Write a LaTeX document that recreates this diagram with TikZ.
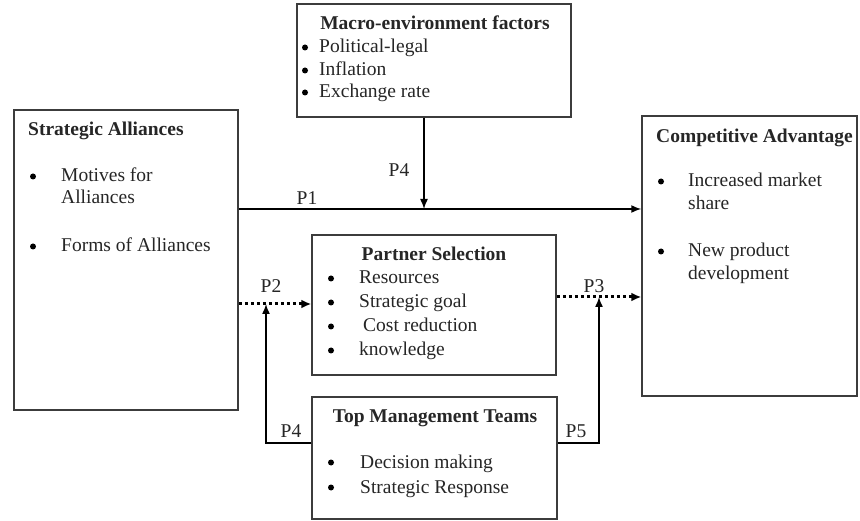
\documentclass[tikz,border=0pt]{standalone}
\usepackage{fontspec}
\setmainfont{Liberation Serif}
\usetikzlibrary{arrows.meta}
\definecolor{boxgray}{HTML}{3C3C3C}
\definecolor{textgray}{HTML}{262626}
\begin{document}
\begin{tikzpicture}[x=1pt,y=-1pt,
  box/.style={draw=boxgray, line width=1.5pt, rectangle, inner sep=0pt, fill=white},
  txt/.style={anchor=base west, inner sep=0pt, font=\fontsize{19.5}{23}\selectfont, text=textgray},
  ttl/.style={anchor=base, inner sep=0pt, font=\fontsize{19.5}{23}\selectfont\bfseries, text=textgray},
  bul/.style={circle, fill=black, inner sep=0pt, minimum size=6pt, yshift=5.5pt},
  lbl/.style={anchor=base, inner sep=0pt, font=\fontsize{19.5}{23}\selectfont, text=textgray},
  conn/.style={draw=black, line width=1.5pt},
  arr/.style={conn, -{Latex[length=10pt,width=8pt]}},
  dotarr/.style={draw=black, line width=3pt, dash pattern=on 3pt off 3pt, -{Latex[length=10pt,width=9pt]}}
]
\useasboundingbox (0,0) rectangle (860,521);
\fill[white] (0,0) rectangle (860,521);

% boxes
\node[box, minimum width=224pt, minimum height=300pt] (sa) at (126,260) {};
\node[box, minimum width=274pt, minimum height=113pt] (macro) at (434,60.5) {};
\node[box, minimum width=215pt, minimum height=280pt] (ca) at (749.5,256) {};
\node[box, minimum width=244pt, minimum height=140pt] (ps) at (434,305) {};
\node[box, minimum width=245pt, minimum height=122pt] (tmt) at (434.5,458) {};

% Strategic Alliances
\node[ttl, anchor=base west] (sat) at (28,136) {Strategic Alliances};
\node[bul] (sab1) at (33,182) {};
\node[txt] (sa1) at (61,182) {Motives for};
\node[txt] (sa1b) at (61,204) {Alliances};
\node[bul] (sab2) at (33,252) {};
\node[txt] (sa2) at (61,252) {Forms of Alliances};

% Macro
\node[ttl] (mt) at (435,30) {Macro-environment factors};
\node[bul] (mb1) at (305,53) {};
\node[txt] (m1) at (319,53) {Political-legal};
\node[bul] (mb2) at (305,76) {};
\node[txt] (m2) at (319,76) {Inflation};
\node[bul] (mb3) at (305,98) {};
\node[txt] (m3) at (319,98) {Exchange rate};

% Competitive Advantage
\node[ttl, anchor=base west] (cat) at (656,143) {Competitive Advantage};
\node[bul] (cab1) at (661,187) {};
\node[txt] (ca1) at (688,187) {Increased market};
\node[txt] (ca1b) at (688,210) {share};
\node[bul] (cab2) at (661,257) {};
\node[txt] (ca2) at (688,257) {New product};
\node[txt] (ca2b) at (688,280) {development};

% Partner Selection
\node[ttl] (pst) at (434,261) {Partner Selection};
\node[bul] (psb1) at (331,284) {};
\node[txt] (ps1) at (359,284) {Resources};
\node[bul] (psb2) at (331,308) {};
\node[txt] (ps2) at (359,308) {Strategic goal};
\node[bul] (psb3) at (331,332) {};
\node[txt] (ps3) at (363,332) {Cost reduction};
\node[bul] (psb4) at (331,356) {};
\node[txt] (ps4) at (359,356) {knowledge};

% Top Management Teams
\node[ttl] (tmtt) at (435,423) {Top Management Teams};
\node[bul] (tb1) at (331,468) {};
\node[txt] (t1) at (360,468) {Decision making};
\node[bul] (tb2) at (331,493) {};
\node[txt] (t2) at (360,493) {Strategic Response};

% connectors
\coordinate (p1y) at (0,209);
\coordinate (p2y) at (0,304);
\coordinate (p3y) at (0,297);
\coordinate (tmy) at (0,443);
\coordinate (lx) at (266,0);
\coordinate (rx) at (599,0);

\draw[arr] (sa.east |- p1y) -- (ca.west |- p1y);
\draw[arr] ([xshift=-10pt]macro.south) -- ([xshift=-10pt]macro.south |- p1y);
\draw[dotarr] (sa.east |- p2y) -- (ps.west |- p2y);
\draw[dotarr] (ps.east |- p3y) -- (ca.west |- p3y);
\draw[arr] (tmt.west |- tmy) -- (lx |- tmy) -- (lx |- p2y);
\draw[arr] (tmt.east |- tmy) -- (rx |- tmy) -- (rx |- p3y);

% labels
\node[lbl] (lp1) at (307,205) {P1};
\node[lbl] (lp4a) at (399,177) {P4};
\node[lbl] (lp2) at (271,293) {P2};
\node[lbl] (lp3) at (594,293) {P3};
\node[lbl] (lp4b) at (291,438) {P4};
\node[lbl] (lp5) at (576,438) {P5};
\end{tikzpicture}
\end{document}
